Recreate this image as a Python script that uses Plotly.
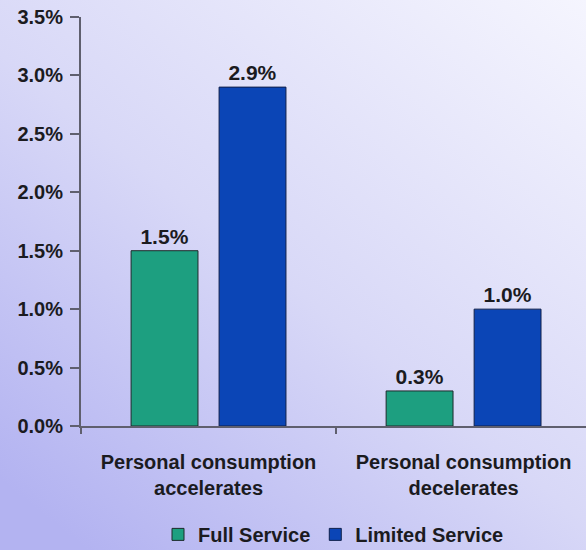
import base64
import plotly.graph_objects as go

# Scenario categories and growth values (percent)
categories = ["Personal consumption<br>accelerates", "Personal consumption<br>decelerates"]
full_service = [1.5, 0.3]
limited_service = [2.9, 1.0]
y_ticks = [0.0, 0.5, 1.0, 1.5, 2.0, 2.5, 3.0, 3.5]
y_tick_text = [f"{v:.1f}%" for v in y_ticks]

FONT = "Liberation Sans, Arial, Helvetica, sans-serif"
TEXT_COLOR = "#1b1b1f"
AXIS_COLOR = "#5f5f6e"

# Soft lavender diagonal gradient used as the page background
svg = (
    '<svg xmlns="http://www.w3.org/2000/svg" width="586" height="550" preserveAspectRatio="none">'
    '<defs><linearGradient id="g" x1="1" y1="0" x2="0.15" y2="1">'
    '<stop offset="0" stop-color="#f5f5fe"/>'
    '<stop offset="0.55" stop-color="#d8d8f7"/>'
    '<stop offset="1" stop-color="#b3b3f1"/>'
    '</linearGradient></defs>'
    '<rect width="586" height="550" fill="url(#g)"/></svg>'
)
bg_uri = "data:image/svg+xml;base64," + base64.b64encode(svg.encode()).decode()

L, R, T, B = 81, 0, 17, 124
W, H = 586, 550
pw, ph = W - L - R, H - T - B

label_font = dict(family=FONT, size=21, color=TEXT_COLOR, weight="bold")

fig = go.Figure()
fig.add_trace(go.Bar(
    name="Full Service", x=categories, y=full_service,
    marker=dict(color="#1d9f80", line=dict(color="#1c2a2a", width=1)),
    texttemplate="%{y:.1f}%", textposition="outside",
    textfont=label_font, cliponaxis=False,
))
fig.add_trace(go.Bar(
    name="Limited Service", x=categories, y=limited_service,
    marker=dict(color="#0b45b6", line=dict(color="#10204a", width=1)),
    texttemplate="%{y:.1f}%", textposition="outside",
    textfont=label_font, cliponaxis=False,
))

fig.update_layout(
    width=W, height=H,
    margin=dict(l=L, r=R, t=T, b=B, autoexpand=False),
    barmode="group", bargap=0.31, bargroupgap=0.24,
    paper_bgcolor="#d6d6f7", plot_bgcolor="rgba(0,0,0,0)",
    font=dict(family=FONT, color=TEXT_COLOR, size=15),
    images=[dict(
        source=bg_uri, xref="paper", yref="paper",
        x=-L / pw, y=1 + T / ph, sizex=W / pw, sizey=H / ph,
        xanchor="left", yanchor="top", sizing="stretch", layer="below",
    )],
    xaxis=dict(
        range=[-0.5, 1.48], showline=True, linecolor=AXIS_COLOR, linewidth=2,
        ticks="outside", tickson="boundaries", ticklen=6, tickwidth=2,
        tickcolor=AXIS_COLOR, showgrid=False, ticklabelstandoff=17,
        automargin=False,
        tickfont=dict(family=FONT, size=20, color=TEXT_COLOR, weight="bold"),
    ),
    yaxis=dict(
        range=[0, 3.5], tickmode="array", tickvals=y_ticks, ticktext=y_tick_text,
        showline=True, linecolor=AXIS_COLOR, linewidth=2,
        ticks="outside", ticklen=9, tickwidth=2, tickcolor=AXIS_COLOR,
        showgrid=False, zeroline=False, ticklabelstandoff=3, automargin=False,
        tickfont=dict(family=FONT, size=20, color=TEXT_COLOR, weight="bold"),
    ),
    legend=dict(
        orientation="h", x=0.5, xanchor="center", y=-0.265, yanchor="middle",
        font=dict(family=FONT, size=20, color=TEXT_COLOR, weight="bold"),
        bgcolor="rgba(0,0,0,0)", itemwidth=30,
    ),
    showlegend=True,
)

fig.write_html("out.html")
